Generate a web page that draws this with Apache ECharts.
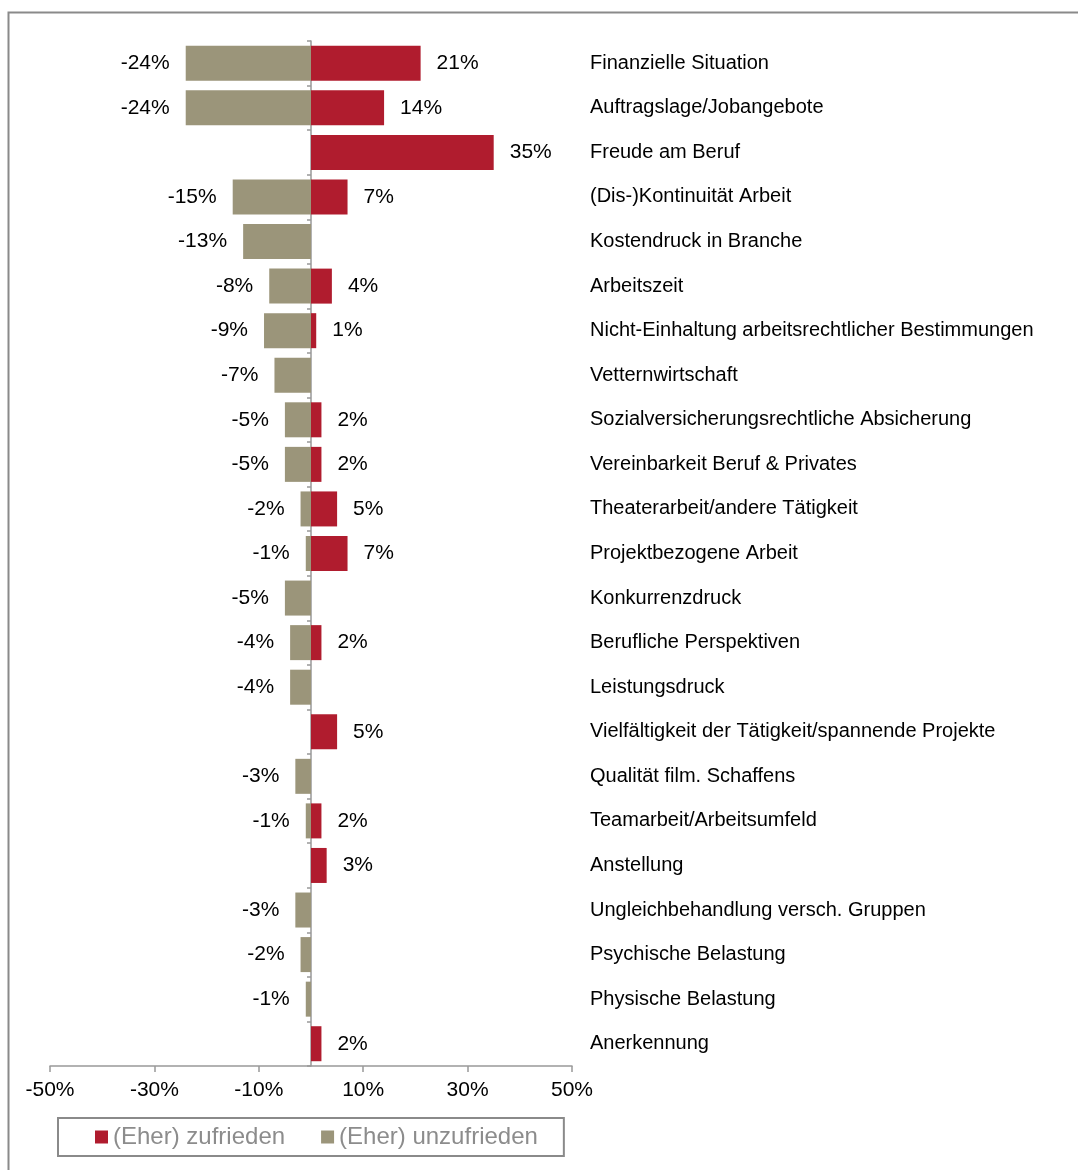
<!DOCTYPE html>
<html><head><meta charset="utf-8">
<script src="https://cdn.jsdelivr.net/npm/echarts@6/dist/echarts.min.js"></script>
<style>html,body{margin:0;padding:0;background:#fff}#c{width:1078px;height:1170px}</style>
</head><body><div id="c"></div>
<script>
const categories = [
  'Finanzielle Situation','Auftragslage/Jobangebote','Freude am Beruf','(Dis-)Kontinuität Arbeit',
  'Kostendruck in Branche','Arbeitszeit','Nicht-Einhaltung arbeitsrechtlicher Bestimmungen','Vetternwirtschaft',
  'Sozialversicherungsrechtliche Absicherung','Vereinbarkeit Beruf & Privates','Theaterarbeit/andere Tätigkeit',
  'Projektbezogene Arbeit','Konkurrenzdruck','Berufliche Perspektiven','Leistungsdruck',
  'Vielfältigkeit der Tätigkeit/spannende Projekte','Qualität film. Schaffens','Teamarbeit/Arbeitsumfeld',
  'Anstellung','Ungleichbehandlung versch. Gruppen','Psychische Belastung','Physische Belastung','Anerkennung'
];
const zufrieden   = [21, 14, 35, 7, null, 4, 1, null, 2, 2, 5, 7, null, 2, null, 5, null, 2, 3, null, null, null, 2];
const unzufrieden = [-24, -24, null, -15, -13, -8, -9, -7, -5, -5, -2, -1, -5, -4, -4, null, -3, -1, null, -3, -2, -1, null];
const xTicks = [-50, -30, -10, 10, 30, 50];

const FONT = "'Liberation Sans', Arial, sans-serif";
const chart = echarts.init(document.getElementById('c'), null, {renderer: 'canvas'});
chart.setOption({
  animation: false,
  backgroundColor: '#fff',
  textStyle: {fontFamily: FONT},
  graphic: [{
    type: 'rect', silent: true,
    shape: {x: 8.5, y: 12.5, width: 1200, height: 1300},
    style: {fill: 'none', stroke: '#8a8a8a', lineWidth: 2}
  }],
  grid: {left: 50, right: 506, top: 41, bottom: 104, containLabel: false},
  legend: {
    left: 58, top: 1118,
    padding: [7, 26, 7, 37],
    borderColor: '#8a8a8a', borderWidth: 2,
    itemWidth: 13, itemHeight: 13, itemGap: 36,
    icon: 'rect',
    textStyle: {fontSize: 24, color: '#8c8c8c', fontFamily: FONT},
    data: ['(Eher) zufrieden', '(Eher) unzufrieden']
  },
  xAxis: {
    type: 'value', min: -50, max: 50, interval: 10,
    axisLine: {show: true, lineStyle: {color: '#999', width: 1.5}},
    axisTick: {show: true, length: 6, customValues: xTicks, lineStyle: {color: '#999', width: 1.5}},
    axisLabel: {customValues: xTicks, formatter: v => v + '%', fontSize: 21, color: '#000', margin: 14, fontFamily: FONT},
    splitLine: {show: false}
  },
  yAxis: [{
    type: 'category', data: categories, inverse: true, position: 'left',
    axisLine: {show: true, onZero: true, lineStyle: {color: '#999', width: 1.5}},
    axisTick: {show: true, length: 4, lineStyle: {color: '#999', width: 1.5}},
    axisLabel: {show: false}
  }, {
    type: 'category', data: categories, inverse: true, position: 'right',
    axisLine: {show: false}, axisTick: {show: false},
    axisLabel: {show: true, margin: 18, fontSize: 20, color: '#000', fontFamily: FONT}
  }],
  series: [{
    name: '(Eher) zufrieden', type: 'bar', stack: 's', data: zufrieden, barWidth: 35,
    itemStyle: {color: '#B01C2E'},
    label: {show: true, position: 'right', distance: 16, formatter: p => p.value + '%', fontSize: 21, color: '#000', fontFamily: FONT}
  }, {
    name: '(Eher) unzufrieden', type: 'bar', stack: 's', data: unzufrieden, barWidth: 35,
    itemStyle: {color: '#9B957A'},
    label: {show: true, position: 'left', distance: 16, formatter: p => p.value + '%', fontSize: 21, color: '#000', fontFamily: FONT}
  }]
});
</script>
</body></html>
